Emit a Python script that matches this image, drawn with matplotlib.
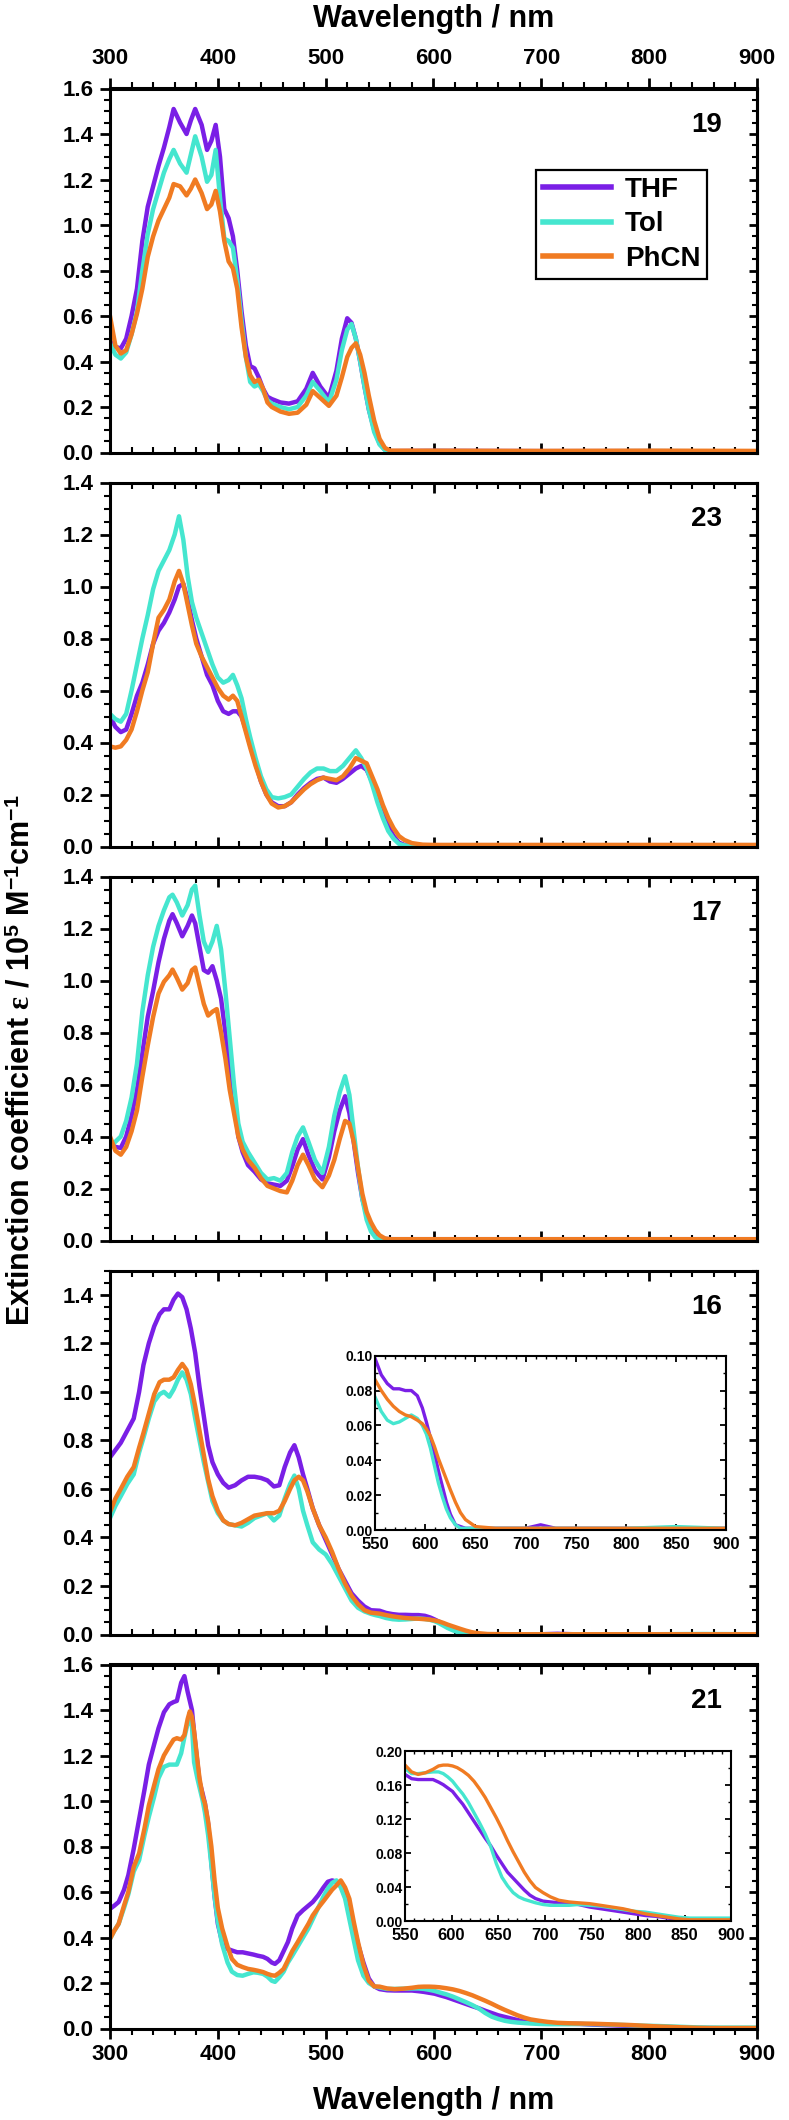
import matplotlib
matplotlib.use("Agg")
import matplotlib.pyplot as plt
from matplotlib.ticker import MultipleLocator, FixedLocator, FormatStrFormatter

# ---- data (wavelength in nm, epsilon in 1e5 M^-1 cm^-1) ----
solvents = ["THF", "Tol", "PhCN"]
panel_names = ["19", "23", "17", "16", "21"]

wl_19 = [300, 305, 310, 315, 320, 325, 330, 335, 340, 345,
         350, 355, 359, 365, 371, 375, 379, 385, 390, 394,
         398, 402, 406, 410, 414, 418, 422, 426, 430, 434,
         438, 442, 446, 450, 458, 466, 474, 482, 488, 495,
         503, 510, 515, 520, 524, 528, 532, 536, 540, 545,
         550, 555, 560, 600, 700, 800, 900]
thf_19 = [0.49, 0.465, 0.457, 0.50, 0.60, 0.72, 0.93, 1.08, 1.17, 1.26,
          1.34, 1.43, 1.51, 1.45, 1.40, 1.46, 1.51, 1.44, 1.33, 1.37,
          1.44, 1.30, 1.07, 1.03, 0.95, 0.80, 0.62, 0.47, 0.38, 0.37,
          0.33, 0.28, 0.245, 0.235, 0.22, 0.215, 0.225, 0.28, 0.35, 0.29,
          0.24, 0.36, 0.50, 0.59, 0.57, 0.50, 0.40, 0.29, 0.19, 0.10,
          0.04, 0.012, 0.006, 0.007, 0.006, 0.006, 0.005]
tol_19 = [0.48, 0.43, 0.413, 0.44, 0.52, 0.62, 0.80, 0.96, 1.07, 1.15,
          1.23, 1.29, 1.33, 1.27, 1.23, 1.31, 1.39, 1.30, 1.19, 1.22,
          1.33, 1.12, 0.94, 0.93, 0.90, 0.76, 0.58, 0.42, 0.31, 0.29,
          0.30, 0.27, 0.23, 0.215, 0.20, 0.19, 0.20, 0.25, 0.31, 0.27,
          0.22, 0.32, 0.45, 0.54, 0.565, 0.50, 0.40, 0.29, 0.19, 0.09,
          0.035, 0.01, 0.005, 0.006, 0.005, 0.006, 0.005]
phcn_19 = [0.60, 0.47, 0.435, 0.45, 0.52, 0.61, 0.72, 0.86, 0.95, 1.02,
           1.07, 1.12, 1.18, 1.17, 1.13, 1.16, 1.20, 1.14, 1.07, 1.09,
           1.15, 1.06, 0.93, 0.84, 0.81, 0.72, 0.55, 0.42, 0.34, 0.31,
           0.32, 0.28, 0.22, 0.20, 0.18, 0.17, 0.175, 0.21, 0.27, 0.24,
           0.205, 0.25, 0.33, 0.42, 0.46, 0.48, 0.43, 0.35, 0.25, 0.14,
           0.06, 0.02, 0.008, 0.008, 0.007, 0.008, 0.007]

wl_23 = [300, 305, 310, 315, 320, 325, 330, 335, 340, 345,
         350, 355, 360, 364, 368, 372, 376, 380, 385, 390,
         395, 400, 405, 410, 414, 418, 422, 426, 430, 435,
         440, 445, 450, 456, 462, 468, 474, 480, 486, 492,
         498, 504, 510, 516, 522, 528, 533, 538, 543, 548,
         553, 558, 563, 568, 573, 580, 590, 600, 700, 800,
         900]
thf_23 = [0.50, 0.46, 0.44, 0.45, 0.51, 0.58, 0.63, 0.70, 0.78, 0.83,
          0.86, 0.90, 0.95, 1.00, 1.01, 0.95, 0.87, 0.80, 0.73, 0.66,
          0.62, 0.56, 0.52, 0.51, 0.52, 0.52, 0.50, 0.45, 0.39, 0.32,
          0.25, 0.20, 0.17, 0.155, 0.155, 0.17, 0.20, 0.225, 0.245, 0.26,
          0.265, 0.25, 0.245, 0.26, 0.28, 0.30, 0.31, 0.295, 0.25, 0.20,
          0.13, 0.08, 0.04, 0.015, 0.006, 0.005, 0.005, 0.005, 0.005, 0.005,
          0.005]
tol_23 = [0.51, 0.49, 0.48, 0.51, 0.60, 0.70, 0.80, 0.89, 0.99, 1.06,
          1.10, 1.14, 1.20, 1.27, 1.18, 1.04, 0.94, 0.88, 0.82, 0.76,
          0.70, 0.65, 0.63, 0.64, 0.66, 0.62, 0.57, 0.49, 0.42, 0.34,
          0.27, 0.22, 0.19, 0.185, 0.19, 0.20, 0.23, 0.26, 0.285, 0.30,
          0.30, 0.29, 0.29, 0.31, 0.34, 0.37, 0.34, 0.30, 0.24, 0.17,
          0.11, 0.06, 0.03, 0.01, 0.004, 0.004, 0.004, 0.004, 0.004, 0.004,
          0.004]
phcn_23 = [0.385, 0.38, 0.385, 0.41, 0.45, 0.52, 0.60, 0.67, 0.78, 0.88,
           0.91, 0.95, 1.02, 1.06, 1.01, 0.93, 0.85, 0.78, 0.73, 0.69,
           0.65, 0.61, 0.58, 0.565, 0.58, 0.56, 0.50, 0.44, 0.38, 0.31,
           0.25, 0.20, 0.165, 0.15, 0.155, 0.17, 0.195, 0.22, 0.24, 0.255,
           0.265, 0.26, 0.255, 0.27, 0.30, 0.34, 0.33, 0.32, 0.27, 0.22,
           0.16, 0.11, 0.07, 0.04, 0.025, 0.013, 0.007, 0.006, 0.006, 0.006,
           0.006]

wl_17 = [300, 305, 310, 315, 320, 325, 330, 335, 340, 345,
         350, 355, 358, 362, 367, 372, 376, 379, 383, 387,
         391, 395, 399, 403, 407, 411, 415, 419, 423, 428,
         434, 440, 446, 452, 458, 464, 469, 474, 479, 484,
         490, 497, 503, 508, 513, 518, 522, 526, 530, 534,
         538, 542, 546, 550, 555, 560, 600, 700, 800, 900]
thf_17 = [0.375, 0.36, 0.356, 0.40, 0.48, 0.58, 0.72, 0.86, 0.96, 1.07,
          1.16, 1.23, 1.255, 1.22, 1.17, 1.21, 1.25, 1.22, 1.13, 1.04,
          1.03, 1.055, 1.00, 0.93, 0.80, 0.66, 0.54, 0.40, 0.34, 0.29,
          0.265, 0.235, 0.22, 0.215, 0.21, 0.23, 0.285, 0.35, 0.39, 0.33,
          0.27, 0.235, 0.32, 0.42, 0.50, 0.555, 0.49, 0.38, 0.26, 0.16,
          0.10, 0.06, 0.03, 0.012, 0.006, 0.005, 0.005, 0.005, 0.005, 0.005]
tol_17 = [0.36, 0.38, 0.40, 0.46, 0.55, 0.68, 0.88, 1.02, 1.13, 1.21,
          1.27, 1.32, 1.33, 1.30, 1.25, 1.29, 1.35, 1.365, 1.25, 1.15,
          1.11, 1.15, 1.21, 1.12, 0.96, 0.78, 0.60, 0.45, 0.38, 0.34,
          0.30, 0.26, 0.235, 0.24, 0.23, 0.26, 0.34, 0.40, 0.435, 0.38,
          0.31, 0.26, 0.36, 0.48, 0.57, 0.632, 0.56, 0.42, 0.28, 0.16,
          0.08, 0.035, 0.012, 0.005, 0.004, 0.004, 0.004, 0.004, 0.004, 0.004]
phcn_17 = [0.40, 0.345, 0.33, 0.36, 0.42, 0.50, 0.63, 0.75, 0.86, 0.95,
           0.995, 1.02, 1.042, 1.01, 0.965, 0.99, 1.04, 1.05, 0.98, 0.91,
           0.865, 0.88, 0.89, 0.80, 0.70, 0.58, 0.49, 0.40, 0.35, 0.31,
           0.28, 0.24, 0.21, 0.20, 0.19, 0.185, 0.23, 0.29, 0.33, 0.29,
           0.235, 0.205, 0.25, 0.31, 0.39, 0.46, 0.45, 0.38, 0.28, 0.18,
           0.11, 0.07, 0.04, 0.02, 0.008, 0.005, 0.005, 0.005, 0.005, 0.005]

wl_16 = [300, 305, 310, 316, 322, 327, 331, 336, 341, 346,
         350, 355, 359, 363, 367, 371, 375, 379, 383, 387,
         391, 395, 400, 405, 410, 416, 422, 428, 434, 440,
         446, 452, 457, 462, 467, 471, 475, 479, 483, 488,
         494, 500, 506, 512, 518, 524, 530, 536, 542, 546]
thf_16 = [0.73, 0.76, 0.79, 0.84, 0.89, 1.00, 1.11, 1.20, 1.27, 1.32,
          1.34, 1.34, 1.38, 1.405, 1.39, 1.34, 1.26, 1.16, 1.02, 0.90,
          0.78, 0.71, 0.66, 0.625, 0.605, 0.615, 0.635, 0.65, 0.65, 0.645,
          0.635, 0.61, 0.615, 0.69, 0.75, 0.78, 0.73, 0.66, 0.60, 0.52,
          0.45, 0.39, 0.33, 0.27, 0.22, 0.17, 0.14, 0.115, 0.10, 0.099]
tol_16 = [0.48, 0.53, 0.57, 0.62, 0.66, 0.75, 0.81, 0.89, 0.96, 0.99,
          1.00, 0.98, 1.01, 1.05, 1.08, 1.05, 0.99, 0.89, 0.80, 0.71,
          0.63, 0.55, 0.50, 0.47, 0.455, 0.45, 0.445, 0.46, 0.48, 0.49,
          0.50, 0.47, 0.49, 0.56, 0.62, 0.655, 0.60, 0.51, 0.45, 0.38,
          0.35, 0.33, 0.29, 0.24, 0.19, 0.14, 0.11, 0.095, 0.085, 0.08]
phcn_16 = [0.505, 0.56, 0.60, 0.65, 0.69, 0.77, 0.83, 0.91, 0.99, 1.04,
           1.05, 1.05, 1.06, 1.09, 1.115, 1.09, 1.03, 0.94, 0.84, 0.74,
           0.64, 0.57, 0.51, 0.47, 0.455, 0.45, 0.46, 0.475, 0.49, 0.495,
           0.50, 0.50, 0.51, 0.55, 0.60, 0.635, 0.65, 0.635, 0.59, 0.52,
           0.45, 0.40, 0.34, 0.27, 0.21, 0.16, 0.125, 0.10, 0.09, 0.088]
# red tail of 16 (also shown in the inset)
wl_16_red = [550, 556, 562, 568, 574, 580, 586, 592, 597, 601,
             605, 609, 613, 617, 621, 625, 630, 635, 640, 650,
             670, 700, 715, 730, 760, 800, 850, 900]
thf_16_red = [0.098, 0.089, 0.084, 0.081, 0.081, 0.080, 0.080, 0.077, 0.070, 0.062,
              0.053, 0.044, 0.034, 0.025, 0.016, 0.009, 0.003, 0.002, 0.001, 0.001,
              0.001, 0.001, 0.003, 0.001, 0.001, 0.001, 0.001, 0.001]
tol_16_red = [0.076, 0.068, 0.063, 0.061, 0.062, 0.064, 0.066, 0.064, 0.060, 0.055,
              0.047, 0.037, 0.027, 0.019, 0.012, 0.007, 0.003, 0.001, 0.001, 0.001,
              0.001, 0.001, 0.001, 0.001, 0.001, 0.001, 0.002, 0.001]
phcn_16_red = [0.086, 0.080, 0.075, 0.071, 0.068, 0.066, 0.065, 0.063, 0.061, 0.058,
               0.054, 0.048, 0.041, 0.035, 0.029, 0.023, 0.016, 0.010, 0.006, 0.002,
               0.001, 0.001, 0.001, 0.001, 0.001, 0.001, 0.001, 0.001]

wl_21 = [300, 304, 308, 313, 317, 322, 327, 332, 336, 341,
         345, 350, 355, 359, 362, 366, 369, 372, 374, 376,
         378, 381, 383, 386, 388, 391, 394, 397, 400, 404,
         409, 413, 418, 423, 428, 433, 437, 442, 446, 450,
         453, 457, 461, 465, 469, 474, 479, 484, 488, 493,
         498, 502, 506, 510, 514, 518, 522, 526, 530, 535,
         540, 545]
thf_21 = [0.526, 0.54, 0.556, 0.61, 0.674, 0.79, 0.92, 1.05, 1.16, 1.25,
          1.32, 1.39, 1.425, 1.435, 1.44, 1.52, 1.549, 1.48, 1.44, 1.40,
          1.30, 1.17, 1.085, 1.03, 0.99, 0.90, 0.73, 0.58, 0.46, 0.38,
          0.35, 0.343, 0.335, 0.335, 0.33, 0.325, 0.32, 0.315, 0.306, 0.29,
          0.284, 0.30, 0.34, 0.38, 0.44, 0.497, 0.52, 0.54, 0.556, 0.585,
          0.62, 0.645, 0.651, 0.645, 0.63, 0.58, 0.52, 0.45, 0.37, 0.29,
          0.22, 0.185]
tol_21 = [0.394, 0.43, 0.46, 0.53, 0.59, 0.69, 0.74, 0.85, 0.93, 1.02,
          1.10, 1.15, 1.16, 1.16, 1.16, 1.21, 1.28, 1.34, 1.365, 1.33,
          1.17, 1.10, 1.06, 1.00, 0.95, 0.85, 0.72, 0.58, 0.47, 0.37,
          0.29, 0.25, 0.235, 0.232, 0.24, 0.247, 0.245, 0.24, 0.228, 0.21,
          0.205, 0.225, 0.25, 0.29, 0.32, 0.36, 0.40, 0.44, 0.48, 0.53,
          0.58, 0.615, 0.64, 0.651, 0.62, 0.571, 0.48, 0.39, 0.30, 0.232,
          0.20, 0.185]
phcn_21 = [0.394, 0.43, 0.46, 0.54, 0.60, 0.71, 0.77, 0.88, 0.98, 1.07,
           1.14, 1.20, 1.24, 1.27, 1.276, 1.27, 1.29, 1.36, 1.394, 1.37,
           1.306, 1.18, 1.10, 1.02, 0.99, 0.91, 0.80, 0.65, 0.53, 0.44,
           0.36, 0.306, 0.28, 0.27, 0.262, 0.258, 0.254, 0.248, 0.24, 0.234,
           0.232, 0.245, 0.262, 0.30, 0.34, 0.379, 0.42, 0.46, 0.497, 0.53,
           0.56, 0.585, 0.61, 0.629, 0.651, 0.62, 0.57, 0.47, 0.38, 0.28,
           0.21, 0.185]
# red tail of 21 (also shown in the inset)
wl_21_red = [550, 557, 564, 572, 580, 586, 591, 596, 601, 606,
             612, 618, 624, 630, 636, 642, 648, 654, 660, 666,
             672, 678, 684, 690, 698, 706, 715, 726, 736, 748,
             760, 772, 784, 796, 808, 820, 832, 844, 856, 868,
             880, 890, 900]
thf_21_red = [0.173, 0.168, 0.167, 0.167, 0.167, 0.164, 0.161, 0.157, 0.153, 0.146,
              0.138, 0.128, 0.118, 0.108, 0.098, 0.089, 0.078, 0.068, 0.058, 0.051,
              0.044, 0.037, 0.031, 0.027, 0.024, 0.023, 0.022, 0.021, 0.020, 0.017,
              0.015, 0.013, 0.011, 0.009, 0.007, 0.006, 0.004, 0.002, 0.002, 0.001,
              0.001, 0.001, 0.001]
tol_21_red = [0.180, 0.174, 0.174, 0.175, 0.176, 0.176, 0.174, 0.170, 0.165, 0.158,
              0.150, 0.140, 0.128, 0.116, 0.103, 0.088, 0.068, 0.052, 0.042, 0.034,
              0.029, 0.026, 0.024, 0.022, 0.020, 0.019, 0.019, 0.019, 0.020, 0.019,
              0.018, 0.016, 0.014, 0.012, 0.011, 0.009, 0.007, 0.005, 0.004, 0.004,
              0.004, 0.004, 0.004]
phcn_21_red = [0.184, 0.176, 0.173, 0.175, 0.179, 0.183, 0.184, 0.184, 0.183, 0.181,
               0.177, 0.172, 0.165, 0.156, 0.146, 0.134, 0.122, 0.109, 0.095, 0.082,
               0.070, 0.058, 0.048, 0.040, 0.034, 0.029, 0.025, 0.023, 0.022, 0.021,
               0.019, 0.017, 0.015, 0.012, 0.009, 0.007, 0.005, 0.003, 0.002, 0.002,
               0.002, 0.002, 0.002]

y_max = [1.6, 1.4, 1.4, 1.5, 1.6]
x_major = [300, 400, 500, 600, 700, 800, 900]
x_minor = list(range(300, 901, 20))
colors = ["#7A1FE6", "#45E6CF", "#F07B22"]

# ---- fonts ----
plt.rcParams["font.family"] = ["Liberation Sans", "DejaVu Sans"]
plt.rcParams["font.weight"] = "bold"
plt.rcParams["mathtext.fontset"] = "custom"
plt.rcParams["mathtext.rm"] = "Liberation Sans:bold"
plt.rcParams["mathtext.bf"] = "Liberation Sans:bold"
plt.rcParams["mathtext.it"] = "Liberation Serif"

W, H = 789, 2120
fig = plt.figure(figsize=(W / 100, H / 100), dpi=100)

AX_L, AX_R = 110, 757
PANEL_H, PITCH, TOP0 = 364, 394, 88.5
SPINE_W = 2.2
TICK_FS = 16


def style_ticks(obj, axis, direction, length=7, mlen=4):
    obj.tick_params(axis=axis, which="major", length=length, width=2.0, direction=direction)
    obj.tick_params(axis=axis, which="minor", length=mlen, width=1.5, direction=direction)


def set_x_locators(obj):
    obj.xaxis.set_major_locator(FixedLocator(x_major))
    obj.xaxis.set_minor_locator(FixedLocator(x_minor))


series = [
    (wl_19, [thf_19, tol_19, phcn_19]),
    (wl_23, [thf_23, tol_23, phcn_23]),
    (wl_17, [thf_17, tol_17, phcn_17]),
    (wl_16 + wl_16_red, [thf_16 + thf_16_red, tol_16 + tol_16_red, phcn_16 + phcn_16_red]),
    (wl_21 + wl_21_red, [thf_21 + thf_21_red, tol_21 + tol_21_red, phcn_21 + phcn_21_red]),
]

axes = []
for k, (wl, ys) in enumerate(series):
    top = TOP0 + PITCH * k
    ax = fig.add_axes([AX_L / W, 1 - (top + PANEL_H) / H, (AX_R - AX_L) / W, PANEL_H / H])
    axes.append(ax)
    for name, y, c in zip(solvents, ys, colors):
        ax.plot(wl, y, color=c, lw=3.2, label=name, solid_joinstyle="round")
    ax.set_xlim(300, 900)
    ax.set_ylim(0, y_max[k])
    for sp in ax.spines.values():
        sp.set_linewidth(SPINE_W)

    # y: left ticks out with labels, right ticks in
    y_ticks = [round(0.2 * i, 1) for i in range(int(y_max[k] / 0.2 + 1e-6) + 1)]
    ax.yaxis.set_major_locator(FixedLocator(y_ticks))
    ax.yaxis.set_minor_locator(MultipleLocator(0.05))
    ax.yaxis.set_major_formatter(FormatStrFormatter("%.1f"))
    ax.tick_params(axis="y", which="both", left=True, right=False, labelsize=TICK_FS, pad=5)
    style_ticks(ax, "y", "out")
    sy = ax.secondary_yaxis("right")
    sy.yaxis.set_major_locator(FixedLocator(y_ticks))
    sy.yaxis.set_minor_locator(MultipleLocator(0.05))
    sy.tick_params(axis="y", labelright=False)
    style_ticks(sy, "y", "in", length=6, mlen=3.5)
    sy.spines["right"].set_linewidth(SPINE_W)

    # x ticks
    set_x_locators(ax)
    if k == 0:
        ax.tick_params(axis="x", which="both", bottom=True, top=False, labelbottom=False)
        style_ticks(ax, "x", "in")
        sx = ax.secondary_xaxis("top")
        set_x_locators(sx)
        sx.tick_params(axis="x", labelsize=TICK_FS, pad=7)
        style_ticks(sx, "x", "out")
        sx.spines["top"].set_linewidth(SPINE_W)
    elif k == len(series) - 1:
        ax.tick_params(axis="x", which="both", bottom=True, top=False, labelbottom=True,
                       labelsize=TICK_FS, pad=4)
        style_ticks(ax, "x", "out")
        sx = ax.secondary_xaxis("top")
        set_x_locators(sx)
        sx.tick_params(axis="x", labeltop=False)
        style_ticks(sx, "x", "in")
        sx.spines["top"].set_linewidth(SPINE_W)
    else:
        ax.tick_params(axis="x", which="both", bottom=True, top=True, labelbottom=False)
        style_ticks(ax, "x", "in")

    ax.text(0.946, 0.9, panel_names[k], transform=ax.transAxes, ha="right", va="center",
            fontsize=20, fontweight="bold")

# legend in the first panel
leg = axes[0].legend(loc="upper right", bbox_to_anchor=(0.923, 0.776), fontsize=20,
                     frameon=True, fancybox=False, edgecolor="black", framealpha=1,
                     handlelength=2.45, handletextpad=0.5, borderpad=0.25,
                     labelspacing=0.3, borderaxespad=0)
leg.get_frame().set_linewidth(1.6)
for line in leg.get_lines():
    line.set_linewidth(4)


def make_inset(ax, rect, wl, ys, ytop, ystep):
    ins = ax.inset_axes(rect)
    for y, c in zip(ys, colors):
        ins.plot(wl, y, color=c, lw=2.4, solid_joinstyle="round")
    ins.set_xlim(550, 900)
    ins.set_ylim(0, ytop)
    ins.xaxis.set_major_locator(FixedLocator(list(range(550, 901, 50))))
    ins.xaxis.set_minor_locator(FixedLocator(list(range(550, 901, 10))))
    n = int(round(ytop / ystep))
    ins.yaxis.set_major_locator(FixedLocator([ystep * i for i in range(n + 1)]))
    ins.yaxis.set_minor_locator(FixedLocator([ystep / 2 * i for i in range(2 * n + 1)]))
    ins.yaxis.set_major_formatter(FormatStrFormatter("%.2f"))
    ins.tick_params(which="both", direction="in", top=True, right=True)
    ins.tick_params(which="major", length=4, width=1.3)
    ins.tick_params(which="minor", length=2, width=1.0)
    ins.tick_params(axis="x", labelsize=12, pad=5)
    ins.tick_params(axis="y", labelsize=10, pad=2)
    for sp in ins.spines.values():
        sp.set_linewidth(1.5)
    return ins


make_inset(axes[3], [0.41, 0.287, 0.542, 0.479], wl_16_red,
           [thf_16_red, tol_16_red, phcn_16_red], 0.10, 0.02)
make_inset(axes[4], [0.456, 0.294, 0.504, 0.467], wl_21_red,
           [thf_21_red, tol_21_red, phcn_21_red], 0.20, 0.04)

# axis titles
xc = (AX_L + AX_R) / 2 / W
fig.text(xc, 1 - 19 / H, "Wavelength / nm", ha="center", va="center", fontsize=22,
         fontweight="bold")
fig.text(xc, 1 - 2101 / H, "Wavelength / nm", ha="center", va="center", fontsize=22,
         fontweight="bold")
fig.text(22 / W, 1 - 1060 / H,
         r"Extinction coefficient $\varepsilon$ / 10$^{5}$ M$^{-1}$cm$^{-1}$",
         rotation=90, ha="center", va="center", fontsize=22, fontweight="bold")

fig.savefig("out.png", dpi=100)
